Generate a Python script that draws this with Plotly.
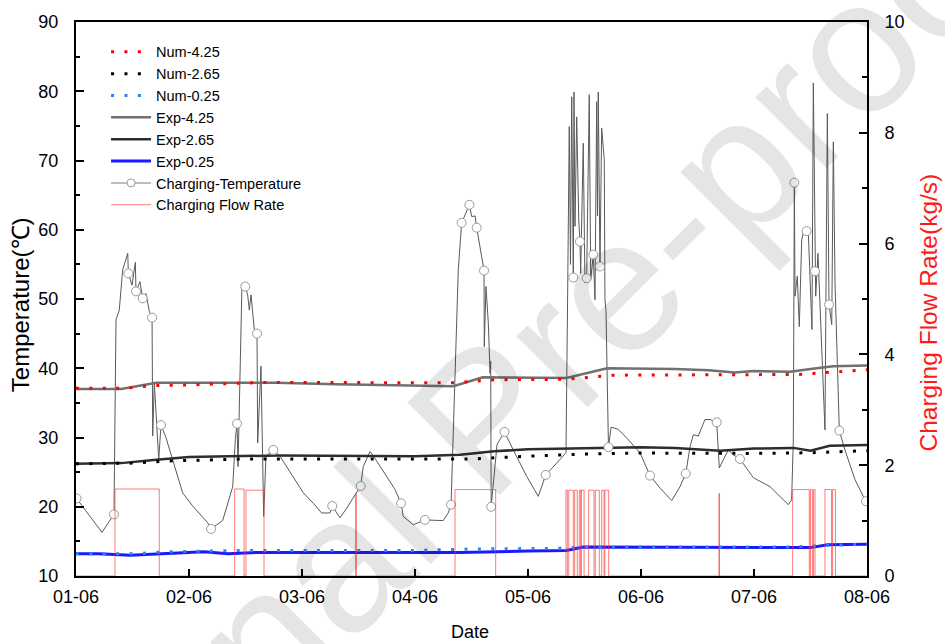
import plotly.graph_objects as go

# ---------------------------------------------------------------
# Data (x = elapsed days since 01-06)
# ---------------------------------------------------------------
date_ticks = [0, 1, 2, 3, 4, 5, 6, 7]
date_labels = ["01-06", "02-06", "03-06", "04-06", "05-06", "06-06", "07-06", "08-06"]

# Tank temperatures at three heights, measured (Exp) and simulated (Num)
exp425_day = [0, 0.40, 0.71, 1.20, 1.77, 2.30, 2.60, 3.00, 3.34, 3.60, 4.00, 4.34,
              4.70, 5.00, 5.30, 5.60, 5.83, 6.00, 6.32, 6.50, 6.70, 7.00]
exp425_temp = [37.0, 37.0, 37.9, 37.9, 37.9, 37.7, 37.6, 37.5, 37.4, 38.7, 38.7, 38.6,
               40.0, 40.0, 39.9, 39.7, 39.4, 39.6, 39.5, 39.9, 40.3, 40.4]

num425_day = [0, 0.40, 0.70, 1.00, 1.66, 2.50, 3.34, 3.70, 4.34, 4.75, 5.50, 6.40, 7.00]
num425_temp = [37.1, 37.1, 37.5, 37.6, 37.95, 37.9, 37.9, 38.35, 38.4, 39.0, 39.05, 39.1, 39.8]

exp265_day = [0, 0.40, 0.71, 1.00, 1.80, 2.50, 3.00, 3.40, 3.70, 4.00, 4.50, 5.00,
              5.30, 5.70, 6.00, 6.35, 6.50, 6.67, 7.00]
exp265_temp = [26.2, 26.3, 26.8, 27.2, 27.4, 27.3, 27.3, 27.5, 28.0, 28.3, 28.5, 28.6,
               28.5, 28.1, 28.4, 28.5, 28.1, 28.8, 28.9]

num265_day = [0, 0.50, 0.80, 1.50, 2.00, 3.00, 3.50, 4.00, 4.50, 5.00, 6.00, 6.50, 7.00]
num265_temp = [26.2, 26.3, 26.6, 26.9, 26.9, 26.9, 26.9, 27.3, 27.6, 27.75, 27.7, 27.8, 28.1]

exp025_day = [0, 0.20, 0.48, 0.80, 1.13, 1.35, 1.60, 2.50, 3.40, 4.00, 4.34, 4.49,
              5.20, 5.50, 6.00, 6.35, 6.50, 6.65, 7.00]
exp025_temp = [13.2, 13.2, 13.0, 13.2, 13.5, 13.2, 13.4, 13.4, 13.4, 13.6, 13.7, 14.2,
               14.2, 14.1, 14.2, 14.2, 14.1, 14.5, 14.6]

num025_day = [0, 0.50, 0.80, 1.50, 3.00, 3.50, 4.30, 4.50, 6.30, 6.60, 7.00]
num025_temp = [13.2, 13.2, 13.5, 13.7, 13.7, 13.9, 14.0, 14.2, 14.2, 14.4, 14.6]

# Charging (inlet) temperature; marked = 1 where a symbol is drawn
charge_day = [
    0.005, 0.230, 0.336, 0.354, 0.383, 0.413, 0.458, 0.463, 0.496, 0.525, 0.531, 0.566,
    0.590, 0.619, 0.649, 0.673, 0.679, 0.693, 0.732, 0.752, 0.796, 0.944, 1.033, 1.165,
    1.195, 1.298, 1.387, 1.410, 1.425, 1.434, 1.469, 1.498, 1.519, 1.534, 1.549, 1.578,
    1.602, 1.608, 1.637, 1.661, 1.681, 1.746, 1.805, 2.012, 2.100, 2.174, 2.248, 2.268,
    2.336, 2.396, 2.469, 2.519, 2.542, 2.602, 2.661, 2.750, 2.823, 2.876, 2.896, 2.985,
    3.088, 3.250, 3.294, 3.319, 3.383, 3.413, 3.451, 3.481, 3.502, 3.531, 3.546, 3.575,
    3.611, 3.613, 3.628, 3.649, 3.664, 3.670, 3.674, 3.726, 3.792, 3.870, 3.988, 4.091,
    4.157, 4.254, 4.336, 4.351, 4.365, 4.376, 4.387, 4.401, 4.407, 4.416, 4.431, 4.449,
    4.460, 4.466, 4.489, 4.504, 4.519, 4.542, 4.555, 4.578, 4.593, 4.608, 4.615, 4.622,
    4.637, 4.652, 4.675, 4.681, 4.690, 4.712, 4.735, 4.796, 4.858, 4.991, 5.080, 5.168,
    5.272, 5.345, 5.396, 5.434, 5.463, 5.507, 5.566, 5.611, 5.670, 5.693, 5.728, 5.772,
    5.817, 5.876, 5.994, 6.142, 6.304, 6.333, 6.348, 6.357, 6.363, 6.383, 6.401, 6.422,
    6.442, 6.466, 6.481, 6.496, 6.513, 6.525, 6.540, 6.546, 6.566, 6.599, 6.628, 6.649,
    6.664, 6.688, 6.702, 6.717, 6.755, 6.805, 6.894, 6.967, 6.991,
]
charge_temp = [
    21.2, 16.3, 18.9, 47.0, 48.4, 54.2, 56.6, 53.7, 52.0, 55.3, 51.1, 52.5,
    50.1, 50.8, 48.2, 47.3, 30.2, 37.9, 26.8, 31.8, 30.0, 22.0, 20.1, 17.7,
    16.8, 18.0, 22.9, 29.7, 32.0, 25.8, 52.3, 51.8, 50.6, 48.4, 50.6, 45.6,
    45.0, 29.2, 40.3, 18.6, 27.3, 28.2, 27.3, 22.0, 20.5, 19.1, 19.1, 20.1,
    18.4, 19.8, 21.7, 23.0, 25.8, 28.0, 26.6, 24.4, 22.5, 20.5, 18.6, 17.4,
    18.1, 18.0, 19.1, 20.3, 54.2, 61.0, 62.4, 63.6, 61.9, 62.0, 60.3, 57.6,
    54.1, 43.1, 51.8, 46.5, 39.3, 41.0, 20.0, 29.0, 30.8, 28.2, 24.4, 21.5,
    24.6, 26.3, 27.8, 50.9, 74.9, 55.0, 79.2, 53.1, 79.9, 60.5, 76.3, 61.4,
    58.3, 53.7, 72.5, 52.3, 53.0, 79.5, 52.8, 56.4, 49.9, 78.5, 62.0, 79.9,
    54.7, 74.7, 70.1, 49.9, 48.4, 28.6, 31.5, 31.2, 30.2, 27.8, 24.5, 22.7,
    20.9, 22.9, 24.8, 28.7, 30.4, 30.2, 32.6, 32.6, 32.2, 25.6, 26.8, 28.2,
    27.5, 26.9, 24.2, 22.9, 20.3, 21.0, 29.7, 66.8, 50.4, 53.3, 46.0, 58.5,
    60.0, 59.8, 59.5, 53.7, 45.6, 81.2, 54.0, 50.4, 56.6, 44.1, 31.1, 76.8,
    49.2, 46.3, 72.7, 52.3, 31.0, 28.2, 23.9, 21.5, 20.8,
]
charge_marked = [
    1, 0, 1, 0, 0, 0, 0, 1, 0, 0, 1, 0,
    1, 0, 0, 1, 0, 0, 0, 1, 0, 0, 0, 0,
    1, 0, 0, 0, 1, 0, 0, 1, 0, 0, 0, 0,
    1, 0, 0, 0, 0, 1, 0, 0, 0, 0, 0, 1,
    0, 0, 0, 1, 0, 0, 0, 0, 0, 1, 0, 0,
    1, 0, 0, 1, 0, 1, 0, 1, 0, 0, 1, 0,
    1, 0, 0, 0, 0, 0, 1, 0, 1, 0, 0, 0,
    1, 0, 0, 0, 0, 0, 0, 1, 0, 0, 0, 0,
    1, 0, 0, 0, 1, 0, 0, 1, 0, 0, 0, 0,
    1, 0, 0, 0, 0, 1, 0, 0, 0, 0, 1, 0,
    0, 0, 1, 0, 0, 0, 0, 0, 1, 0, 0, 0,
    0, 1, 0, 0, 0, 0, 0, 1, 0, 0, 0, 0,
    0, 1, 0, 0, 0, 0, 1, 0, 0, 0, 0, 0,
    1, 0, 0, 0, 1, 0, 0, 0, 1,
]

# Charging flow rate (kg/s): switching instants and the rate held afterwards
flow_day = [
    0, 0.345, 0.737, 1.404, 1.487, 1.504, 1.664, 2.475, 2.480, 3.354, 3.714,
    4.336, 4.348, 4.361, 4.401, 4.413, 4.436, 4.454, 4.466, 4.473, 4.496,
    4.537, 4.584, 4.596, 4.631, 4.652, 4.673, 4.680, 4.714,
    5.690, 5.695, 6.342, 6.489, 6.500, 6.517, 6.527, 6.540, 6.628, 6.686,
    6.695, 6.721, 7.0,
]
flow_rate = [
    0, 1.57, 0, 1.57, 0, 1.55, 0, 1.49, 0, 1.56, 0,
    1.55, 0, 1.55, 0, 1.55, 0, 1.55, 0, 1.55, 0,
    1.55, 0, 1.55, 0, 1.55, 0, 1.55, 0,
    1.49, 0, 1.56, 0, 1.56, 0, 1.56, 0, 1.56, 0,
    1.56, 0, 0,
]

# ---------------------------------------------------------------
# Figure
# ---------------------------------------------------------------
FONT = "Arial, Liberation Sans, Helvetica, sans-serif"
DOTS = "3px,10.4px"

mark_day = [d for d, m in zip(charge_day, charge_marked) if m]
mark_temp = [t for t, m in zip(charge_temp, charge_marked) if m]

fig = go.Figure()

# charging temperature curve (thin) and its symbols
fig.add_trace(go.Scatter(x=charge_day, y=charge_temp, mode="lines",
                         line=dict(color="#5a5a5a", width=1), showlegend=False,
                         hoverinfo="skip"))

fig.add_trace(go.Scatter(x=exp425_day, y=exp425_temp, mode="lines", name="Exp-4.25",
                         line=dict(color="#707070", width=2.5), legendrank=4))
fig.add_trace(go.Scatter(x=exp265_day, y=exp265_temp, mode="lines", name="Exp-2.65",
                         line=dict(color="#2d2d2d", width=2.5), legendrank=5))
fig.add_trace(go.Scatter(x=exp025_day, y=exp025_temp, mode="lines", name="Exp-0.25",
                         line=dict(color="#1a1aff", width=3), legendrank=6))

fig.add_trace(go.Scatter(x=num425_day, y=num425_temp, mode="lines", name="Num-4.25",
                         line=dict(color="#ff0000", width=3, dash=DOTS), legendrank=1))
fig.add_trace(go.Scatter(x=num265_day, y=num265_temp, mode="lines", name="Num-2.65",
                         line=dict(color="#000000", width=3, dash=DOTS), legendrank=2))
fig.add_trace(go.Scatter(x=num025_day, y=num025_temp, mode="lines", name="Num-0.25",
                         line=dict(color="#2f80ff", width=3, dash=DOTS), legendrank=3))

fig.add_trace(go.Scatter(x=mark_day, y=mark_temp, mode="markers", showlegend=False,
                         marker=dict(symbol="circle", size=9, color="white",
                                     line=dict(color="#9a9a9a", width=1))))
# legend entry for the charging temperature (line with symbol)
fig.add_trace(go.Scatter(x=[None], y=[None], mode="lines+markers",
                         name="Charging-Temperature", legendrank=7,
                         line=dict(color="#a8a8a8", width=1.5),
                         marker=dict(symbol="circle", size=8, color="white",
                                     line=dict(color="#9a9a9a", width=1))))

fig.add_trace(go.Scatter(x=flow_day, y=flow_rate, mode="lines", yaxis="y2",
                         name="Charging Flow Rate", legendrank=8,
                         line=dict(color="rgba(255,50,50,0.65)", width=1, shape="hv")))

axis_common = dict(showline=True, linecolor="black", linewidth=2, showgrid=False,
                   zeroline=False, ticks="inside", tickcolor="black", tickwidth=2,
                   tickfont=dict(family=FONT, size=18, color="black"))

fig.update_layout(
    width=945, height=644,
    margin=dict(l=76, r=78, t=22, b=68),
    paper_bgcolor="white", plot_bgcolor="white",
    font=dict(family=FONT, color="black"),
    xaxis=dict(range=[0, 7], tickvals=date_ticks, ticktext=date_labels,
               ticklen=7, mirror=True, ticklabelstandoff=3, **axis_common),
    yaxis=dict(range=[10, 90], dtick=10, ticklen=8, ticklabelstandoff=12,
               minor=dict(ticks="inside", ticklen=4, dtick=5, tickwidth=2,
                          tickcolor="black"),
               **axis_common),
    yaxis2=dict(range=[0, 10], dtick=2, ticklen=8, overlaying="y", side="right",
                ticklabelstandoff=12,
                minor=dict(ticks="inside", ticklen=5, dtick=1, tickwidth=2,
                           tickcolor="black"),
                **axis_common),
    legend=dict(x=0.038, y=0.975, xanchor="left", yanchor="top",
                bgcolor="rgba(0,0,0,0)", borderwidth=0, itemwidth=40,
                tracegroupgap=0, font=dict(family=FONT, size=14.5, color="black")),
    showlegend=True,
)

# axis titles
fig.add_annotation(text="Temperature(℃)", xref="paper", yref="paper",
                   x=-0.07, y=0.49, textangle=-90, showarrow=False,
                   xanchor="center", yanchor="middle",
                   font=dict(family=FONT, size=24, color="black"))
fig.add_annotation(text="Charging Flow Rate(kg/s)", xref="paper", yref="paper",
                   x=1.078, y=0.475, textangle=-90, showarrow=False,
                   xanchor="center", yanchor="middle",
                   font=dict(family=FONT, size=24.5, color="#ff1a1a"))
fig.add_annotation(text="Date", xref="paper", yref="paper",
                   x=0.498, y=-0.101, showarrow=False,
                   xanchor="center", yanchor="middle",
                   font=dict(family=FONT, size=18, color="black"))

# diagonal watermark
fig.add_annotation(text="Journal Pre-proof", xref="paper", yref="paper",
                   x=0.515, y=0.285, textangle=-45, showarrow=False,
                   xanchor="center", yanchor="middle",
                   font=dict(family=FONT, size=190, color="rgba(0,0,0,0.1)"))

fig.write_html("out.html")
